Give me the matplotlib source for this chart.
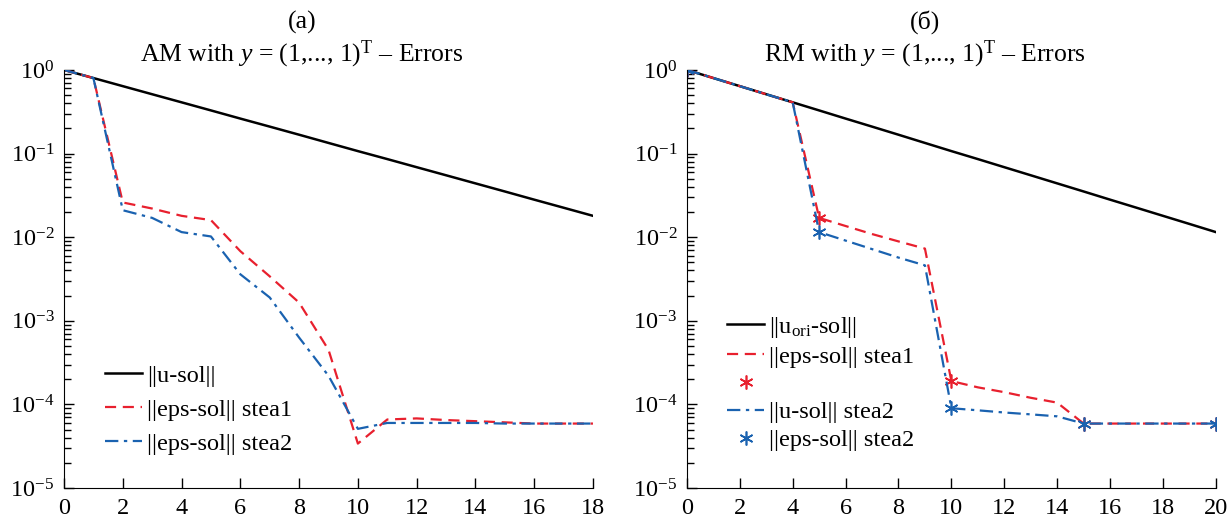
import matplotlib
matplotlib.use("Agg")
import matplotlib.pyplot as plt
from matplotlib.lines import Line2D

plt.rcParams['font.family'] = ['Liberation Serif', 'DejaVu Serif']
plt.rcParams['mathtext.fontset'] = 'custom'
plt.rcParams['mathtext.rm'] = 'Liberation Serif'
plt.rcParams['mathtext.it'] = 'Liberation Serif:italic'
plt.rcParams['mathtext.bf'] = 'Liberation Serif:bold'

RED = '#e8202e'
BLUE = '#1a62b0'
STAR = (6, 2, 0)
FS = 17.5
TFS = 18.5

# ---- panel (a): AM ----
x_a = list(range(0, 19))
u_a = [1.0, 0.8, 0.64, 0.512, 0.41, 0.328, 0.262, 0.21, 0.168, 0.134,
       0.107, 0.0859, 0.0687, 0.055, 0.044, 0.0352, 0.0281, 0.0225, 0.018]
stea1_a = [1.0, 0.8, 0.026, 0.022, 0.018, 0.016, 0.0068, 0.0034, 0.00165, 0.00045,
           3.4e-5, 6.6e-5, 6.8e-5, 6.5e-5, 6.3e-5, 6.1e-5, 5.9e-5, 5.9e-5, 5.9e-5]
stea2_a = [1.0, 0.8, 0.021, 0.017, 0.0115, 0.0102, 0.0036, 0.0019, 0.00063, 0.00022,
           5.1e-5, 6.0e-5, 6.0e-5, 6.0e-5, 6.0e-5, 5.9e-5, 5.9e-5, 5.9e-5, 5.9e-5]

# ---- panel (б): RM ----
x_b = list(range(0, 21))
u_b = [1.0, 0.8, 0.64, 0.512, 0.41, 0.328, 0.262, 0.21, 0.168, 0.134, 0.107,
       0.0859, 0.0687, 0.055, 0.044, 0.0352, 0.0281, 0.0225, 0.018, 0.0144, 0.0115]
stea1_b = [1.0, 0.8, 0.64, 0.512, 0.41, 0.017, 0.0136, 0.0109, 0.0089, 0.0073,
           1.9e-4, 1.6e-4, 1.4e-4, 1.2e-4, 1.05e-4, 5.9e-5, 5.9e-5, 5.9e-5, 5.9e-5, 5.9e-5, 5.9e-5]
stea2_b = [1.0, 0.8, 0.64, 0.512, 0.41, 0.0115, 0.0091, 0.0072, 0.0057, 0.0046,
           9.0e-5, 8.5e-5, 8.0e-5, 7.6e-5, 7.2e-5, 5.9e-5, 5.9e-5, 5.9e-5, 5.9e-5, 5.9e-5, 5.9e-5]
mark_idx = [0, 5, 10, 15, 20]

fig = plt.figure(figsize=(12.31, 5.20), dpi=100)
ax1 = fig.add_axes([0.052, 0.0615, 0.4297, 0.804])
ax2 = fig.add_axes([0.558, 0.0615, 0.4297, 0.804])


def style(ax, xmax):
    ax.set_yscale('log')
    ax.set_ylim(1e-5, 1)
    ax.set_xlim(0, xmax)
    ax.set_xticks(range(0, xmax + 1, 2))
    ax.spines['top'].set_visible(False)
    ax.spines['right'].set_visible(False)
    ax.tick_params(which='major', direction='in', length=7, width=1, labelsize=FS, pad=7)
    ax.tick_params(which='minor', direction='in', length=5, width=1)
    ax.tick_params(axis='x', which='minor', bottom=False)


ax1.plot(x_a, u_a, color='black', lw=1.8, label='||u-sol||')
ax1.plot(x_a, stea1_a, color=RED, lw=1.6, ls=(0, (5, 3)), label='||eps-sol|| stea1')
ax1.plot(x_a, stea2_a, color=BLUE, lw=1.6, ls=(0, (6, 2.5, 1.5, 2.5)), label='||eps-sol|| stea2')
style(ax1, 18)
ax1.set_title('(a)\nAM with $y$ = (1,..., 1)$^{\\rm T}$ \u2013 Errors', fontsize=TFS,
              linespacing=1.2, pad=6, x=0.45)
ax1.legend(loc='lower left', bbox_to_anchor=(0.06, 0.056), frameon=False, fontsize=FS,
           handlelength=1.5, handletextpad=0.2, labelspacing=0.5, borderaxespad=0)

ax2.plot(x_b, u_b, color='black', lw=1.8)
l1, = ax2.plot(x_b, stea1_b, color=RED, lw=1.6, ls=(0, (5, 3)))
m1, = ax2.plot([x_b[i] for i in mark_idx], [stea1_b[i] for i in mark_idx], ls='none',
               marker=STAR, ms=10, mew=1.2, color=RED)
l2, = ax2.plot(x_b, stea2_b, color=BLUE, lw=1.6, ls=(0, (6, 2.5, 1.5, 2.5)))
m2, = ax2.plot([x_b[i] for i in mark_idx], [stea2_b[i] for i in mark_idx], ls='none',
               marker=STAR, ms=10, mew=1.2, color=BLUE)
style(ax2, 20)
ax2.set_title('(\u0431)\nRM with $y$ = (1,..., 1)$^{\\rm T}$ \u2013 Errors', fontsize=TFS,
              linespacing=1.2, pad=6, x=0.45)
h0 = Line2D([], [], color='black', lw=1.8)
ax2.legend([h0, l1, m1, l2, m2],
           ['||u$_{\\rm ori}$-sol||', '||eps-sol|| stea1', '', '||u-sol|| stea2', '||eps-sol|| stea2'],
           loc='lower left', bbox_to_anchor=(0.058, 0.065), frameon=False, fontsize=FS,
           handlelength=1.5, handletextpad=0.2, labelspacing=0.24, borderaxespad=0)

fig.savefig('out.png', dpi=100)
